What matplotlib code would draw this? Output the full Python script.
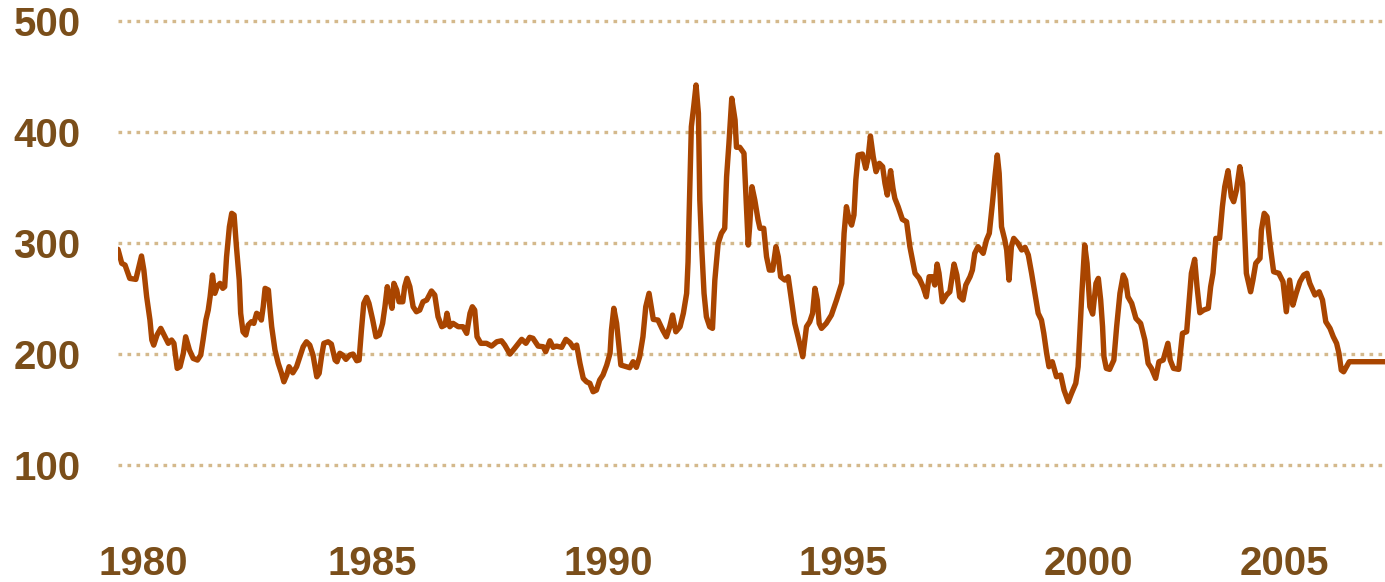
import matplotlib.pyplot as plt

# Index values (decimal year, value)
years = [
    1979.47, 1979.55, 1979.62, 1979.72, 1979.85, 1979.97, 1980.02, 1980.08, 1980.15, 1980.19,
    1980.23, 1980.30, 1980.38, 1980.45, 1980.54, 1980.61, 1980.66, 1980.73, 1980.79, 1980.86,
    1980.91, 1980.99, 1981.07, 1981.16, 1981.23, 1981.28, 1981.34, 1981.39, 1981.43, 1981.48,
    1981.53, 1981.58, 1981.64, 1981.70, 1981.74, 1981.78, 1981.84, 1981.89, 1981.94, 1981.99,
    1982.05, 1982.08, 1982.13, 1982.19, 1982.24, 1982.31, 1982.36, 1982.42, 1982.47, 1982.52,
    1982.56, 1982.60, 1982.67, 1982.70, 1982.74, 1982.81, 1982.88, 1982.95, 1983.00, 1983.06,
    1983.11, 1983.19, 1983.27, 1983.34, 1983.41, 1983.48, 1983.55, 1983.62, 1983.70, 1983.75,
    1983.80, 1983.85, 1983.94, 1984.01, 1984.09, 1984.13, 1984.19, 1984.25, 1984.32, 1984.40,
    1984.47, 1984.55, 1984.60, 1984.65, 1984.70, 1984.76, 1984.81, 1984.89, 1984.96, 1985.03,
    1985.10, 1985.15, 1985.20, 1985.26, 1985.30, 1985.34, 1985.40, 1985.45, 1985.53, 1985.57,
    1985.62, 1985.68, 1985.75, 1985.82, 1985.89, 1985.96, 1986.04, 1986.14, 1986.21, 1986.28,
    1986.36, 1986.43, 1986.47, 1986.53, 1986.60, 1986.71, 1986.81, 1986.89, 1986.96, 1987.01,
    1987.06, 1987.11, 1987.19, 1987.31, 1987.42, 1987.53, 1987.63, 1987.70, 1987.81, 1987.91,
    1988.06, 1988.15, 1988.23, 1988.30, 1988.41, 1988.52, 1988.57, 1988.66, 1988.73, 1988.80,
    1988.91, 1989.00, 1989.09, 1989.16, 1989.23, 1989.30, 1989.37, 1989.44, 1989.51, 1989.58,
    1989.65, 1989.72, 1989.79, 1989.87, 1989.94, 1989.97, 1990.02, 1990.08, 1990.13, 1990.17,
    1990.29, 1990.36, 1990.43, 1990.50, 1990.57, 1990.64, 1990.70, 1990.77, 1990.86, 1990.96,
    1991.06, 1991.14, 1991.21, 1991.27, 1991.34, 1991.43, 1991.50, 1991.57, 1991.60, 1991.62,
    1991.67, 1991.72, 1991.77, 1991.82, 1991.85, 1991.89, 1991.94, 1991.99, 1992.06, 1992.12,
    1992.17, 1992.24, 1992.31, 1992.38, 1992.42, 1992.47, 1992.53, 1992.60, 1992.63, 1992.70,
    1992.79, 1992.83, 1992.88, 1992.91, 1992.96, 1993.02, 1993.09, 1993.13, 1993.21, 1993.27,
    1993.33, 1993.40, 1993.47, 1993.52, 1993.57, 1993.66, 1993.73, 1993.80, 1993.87, 1993.94,
    1994.04, 1994.12, 1994.19, 1994.25, 1994.30, 1994.35, 1994.39, 1994.44, 1994.54, 1994.65,
    1994.76, 1994.87, 1994.92, 1994.97, 1995.03, 1995.08, 1995.13, 1995.17, 1995.22, 1995.31,
    1995.38, 1995.43, 1995.48, 1995.54, 1995.60, 1995.67, 1995.74, 1995.79, 1995.84, 1995.91,
    1995.96, 1996.00, 1996.07, 1996.16, 1996.25, 1996.32, 1996.43, 1996.52, 1996.60, 1996.67,
    1996.73, 1996.80, 1996.85, 1996.90, 1996.94, 1997.01, 1997.10, 1997.17, 1997.26, 1997.32,
    1997.38, 1997.45, 1997.51, 1997.60, 1997.65, 1997.70, 1997.77, 1997.88, 1997.95, 1998.01,
    1998.08, 1998.13, 1998.18, 1998.22, 1998.27, 1998.34, 1998.38, 1998.43, 1998.48, 1998.53,
    1998.62, 1998.70, 1998.77, 1998.84, 1998.91, 1998.98, 1999.05, 1999.12, 1999.17, 1999.23,
    1999.28, 1999.35, 1999.44, 1999.53, 1999.60, 1999.69, 1999.76, 1999.85, 1999.90, 1999.94,
    1999.98, 2000.04, 2000.09, 2000.15, 2000.21, 2000.28, 2000.33, 2000.38, 2000.42, 2000.45,
    2000.50, 2000.57, 2000.66, 2000.72, 2000.79, 2000.86, 2000.91, 2000.96, 2001.04, 2001.13,
    2001.23, 2001.32, 2001.39, 2001.46, 2001.55, 2001.62, 2001.71, 2001.81, 2001.86, 2001.93,
    2002.04, 2002.12, 2002.21, 2002.31, 2002.38, 2002.43, 2002.49, 2002.57, 2002.67, 2002.72,
    2002.77, 2002.83, 2002.91, 2002.97, 2003.02, 2003.09, 2003.16, 2003.21, 2003.27, 2003.34,
    2003.40, 2003.45, 2003.48, 2003.57, 2003.62, 2003.68, 2003.77, 2003.80, 2003.86, 2003.92,
    2003.99, 2004.06, 2004.17, 2004.26, 2004.33, 2004.40, 2004.47, 2004.54, 2004.62, 2004.70,
    2004.77, 2004.83, 2004.94, 2005.03, 2005.10, 2005.17, 2005.26, 2005.33, 2005.40, 2005.45,
    2005.50, 2005.55, 2005.61, 2005.67, 2006.43,
]
values = [
    294.3, 281.7, 280.1, 268.1, 267.2, 288.3, 275.6, 251.5, 230.5, 212.5,
    207.9, 217.0, 223.0, 217.0, 209.5, 212.5, 209.5, 186.9, 188.4, 200.5,
    215.4, 203.4, 195.9, 194.4, 198.9, 212.5, 230.5, 239.5, 251.5, 271.1,
    254.6, 260.6, 263.6, 259.1, 260.6, 287.6, 314.7, 326.8, 325.3, 296.7,
    266.6, 236.6, 219.9, 217.0, 226.0, 229.0, 227.5, 236.6, 235.0, 230.5,
    242.5, 259.1, 257.6, 242.5, 224.5, 203.4, 191.4, 182.4, 174.8, 180.9,
    188.4, 182.9, 188.4, 197.4, 206.4, 210.9, 207.9, 198.9, 179.3, 182.4,
    197.4, 209.5, 210.9, 208.8, 194.4, 192.9, 200.5, 198.9, 195.0, 198.9,
    199.8, 193.8, 194.4, 221.5, 245.6, 251.0, 245.6, 230.5, 215.4, 217.0,
    227.5, 242.5, 260.6, 248.6, 241.1, 263.6, 257.6, 247.0, 247.0, 260.6,
    268.1, 260.6, 242.5, 238.0, 239.5, 247.0, 248.6, 256.7, 253.1, 233.5,
    224.5, 226.0, 236.6, 224.5, 227.5, 224.5, 224.5, 218.5, 236.6, 242.5,
    239.5, 215.4, 209.5, 209.5, 207.0, 210.9, 211.8, 207.9, 199.8, 205.0,
    213.1, 209.5, 214.9, 214.0, 207.0, 206.4, 201.9, 211.8, 205.9, 207.0,
    205.9, 213.1, 210.0, 205.5, 207.9, 191.4, 177.9, 174.8, 173.4, 165.8,
    167.3, 176.4, 180.9, 189.9, 200.5, 221.5, 241.1, 227.5, 206.4, 189.9,
    188.4, 187.5, 192.9, 187.8, 197.4, 215.4, 242.5, 254.6, 231.1, 230.5,
    221.5, 215.4, 224.5, 235.0, 219.9, 224.5, 236.6, 254.6, 282.9, 320.8,
    405.0, 423.0, 442.6, 417.0, 338.8, 296.7, 254.6, 233.5, 224.5, 223.0,
    266.6, 299.7, 308.8, 313.3, 359.8, 390.0, 430.6, 411.0, 386.4, 386.4,
    381.0, 344.9, 298.2, 314.7, 350.8, 338.8, 320.8, 313.3, 313.3, 287.6,
    275.6, 275.6, 296.7, 287.6, 269.6, 266.6, 269.6, 248.6, 227.5, 215.4,
    197.4, 224.5, 229.0, 236.6, 259.1, 248.6, 227.5, 223.0, 227.5, 235.0,
    248.6, 263.6, 308.8, 332.8, 320.8, 316.2, 325.3, 356.9, 379.4, 380.3,
    367.4, 376.4, 396.6, 377.9, 364.4, 371.9, 368.9, 353.9, 343.3, 365.3,
    349.4, 340.3, 332.8, 321.4, 319.2, 296.7, 272.7, 268.1, 260.6, 251.5,
    269.6, 269.6, 262.1, 281.0, 272.7, 247.0, 253.1, 256.0, 281.0, 271.1,
    251.5, 248.6, 262.1, 269.6, 275.6, 290.7, 296.7, 290.7, 302.7, 308.8,
    337.3, 359.8, 379.4, 362.9, 314.7, 302.7, 293.7, 266.6, 296.7, 304.2,
    299.7, 293.7, 296.1, 289.2, 272.7, 254.6, 236.6, 230.5, 218.5, 200.5,
    188.4, 192.9, 179.3, 180.9, 167.3, 156.8, 164.4, 173.4, 188.4, 221.5,
    254.6, 298.2, 281.7, 242.5, 235.9, 263.6, 268.1, 248.6, 224.5, 197.4,
    186.9, 186.0, 194.4, 224.5, 254.6, 271.1, 266.6, 251.5, 245.6, 232.0,
    227.5, 212.5, 191.4, 186.9, 177.9, 192.9, 194.4, 209.5, 194.4, 186.9,
    186.0, 218.5, 220.0, 272.7, 285.3, 260.6, 237.1, 239.5, 241.1, 260.6,
    272.7, 304.2, 304.2, 332.8, 350.8, 365.3, 341.8, 337.3, 347.8, 368.9,
    353.9, 302.7, 272.7, 256.0, 266.6, 281.7, 286.2, 311.7, 326.8, 323.7,
    296.7, 274.1, 272.7, 265.1, 238.0, 266.6, 244.0, 254.6, 265.1, 271.1,
    272.7, 263.6, 253.1, 256.0, 248.6, 229.0, 223.0, 215.4, 209.5, 200.5,
    185.4, 183.8, 188.4, 192.9, 192.9,
]

y_ticks = [100, 200, 300, 400, 500]
x_labels = ['1980', '1985', '1990', '1995', '2000', '2005']
# where the year labels sit along the axis in the original
x_label_pos = [1980.0, 1984.89, 1989.91, 1994.91, 2000.11, 2004.28]

line_color = '#A94500'
grid_color = '#D4B98C'
text_color = '#7A4E1A'

plt.rcParams['font.family'] = ['Liberation Sans', 'DejaVu Sans']

fig = plt.figure(figsize=(13.85, 5.82), dpi=100)
ax = fig.add_axes([118 / 1385, 73 / 582, 1 - 118 / 1385, 509 / 582])

for v in y_ticks:
    ax.axhline(v, color=grid_color, linewidth=2.4, linestyle=(0, (1.1, 1.6)), zorder=1)

ax.plot(years, values, color=line_color, linewidth=3.9, solid_joinstyle='round',
        solid_capstyle='round', zorder=3)

ax.set_xlim(1979.47, 2006.43)
ax.set_ylim(60, 519.3)

ax.set_yticks(y_ticks)
ax.set_yticklabels([str(v) for v in y_ticks])
ax.set_xticks(x_label_pos)
ax.set_xticklabels(x_labels)

ax.tick_params(axis='both', length=0, labelsize=29, labelcolor=text_color)
ax.tick_params(axis='y', pad=27)
ax.tick_params(axis='x', pad=26)
for lbl in ax.get_xticklabels() + ax.get_yticklabels():
    lbl.set_fontweight('bold')

for s in ax.spines.values():
    s.set_visible(False)

fig.savefig('out.png', dpi=100)
